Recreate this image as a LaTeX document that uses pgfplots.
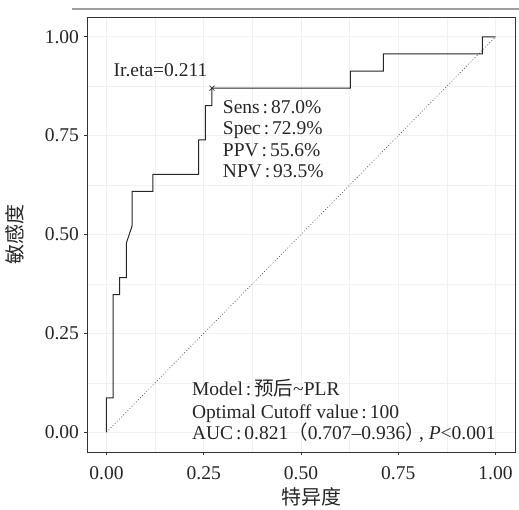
\documentclass[border=0pt]{standalone}
\usepackage{fontspec}
\setmainfont{Liberation Serif}
\newfontfamily\cjk{Noto Sans CJK SC}
\usepackage{pgfplots}
\pgfplotsset{compat=1.18}
\definecolor{frame}{HTML}{333333}
\definecolor{gridc}{HTML}{F1F1F1}
\definecolor{curve}{HTML}{262626}
\definecolor{rulec}{HTML}{A0A0A0}
\newcommand{\cl}{\hspace{0.15em}:\hspace{0.15em}}

\begin{document}
\begin{tikzpicture}
\draw[rulec, line width=1.5pt] (72pt,500pt) -- (519pt,500pt);
\begin{axis}[
  at={(87pt,57pt)}, anchor=south west,
  scale only axis, width=428pt, height=435pt,
  xmin=-0.05, xmax=1.05, ymin=-0.05, ymax=1.05,
  xtick={0,0.25,0.5,0.75,1}, ytick={0,0.25,0.5,0.75,1},
  minor tick num=1, minor tick length=0pt,
  grid=both,
  major grid style={gridc, line width=0.6pt},
  minor grid style={gridc, line width=0.3pt},
  axis line style={frame, line width=0.8pt},
  tick style={frame, line width=0.6pt},
  major tick length=3pt, tick align=outside,
  xtick pos=bottom, ytick pos=left,
  /pgf/number format/.cd, fixed, fixed zerofill, precision=2, assume math mode=true,
  /pgfplots/.cd,
  ticklabel style={font=\fontsize{19.5}{22}\selectfont, text=black!85},
  xticklabel style={yshift=-8pt},
  yticklabel style={xshift=-1.5pt},
  xlabel={\cjk 特异度},
  xlabel style={at={(axis description cs:0.525,-0.104)}, anchor=center,
    font=\fontsize{20}{20}\selectfont, text=black!85},
  ylabel={\cjk 敏感度},
  ylabel style={at={(axis description cs:-0.168,0.501)}, anchor=center,
    font=\fontsize{20}{20}\selectfont, text=black!85},
  clip=false,
]
  % reference diagonal
  \addplot[black!65, line width=0.6pt, dash pattern=on 1pt off 2pt] coordinates {(0,0) (1,1)};
  % ROC curve (x = 1 - specificity, y = sensitivity)
  \addplot[curve, line width=1pt] coordinates {
    (0,0) (0,0.087) (0.017,0.087) (0.017,0.348) (0.034,0.348) (0.034,0.391)
    (0.051,0.391) (0.051,0.478) (0.066,0.522) (0.066,0.609) (0.119,0.609)
    (0.119,0.652) (0.237,0.652) (0.237,0.739) (0.254,0.739) (0.254,0.826)
    (0.271,0.826) (0.271,0.870) (0.627,0.870) (0.627,0.913) (0.712,0.913)
    (0.712,0.957) (0.966,0.957) (0.966,1.0) (1,1)
  };
  % optimal cutoff
  \addplot[only marks, mark=x, mark size=3.5pt, curve, mark options={line width=0.6pt}]
    coordinates {(0.271,0.870)};

  \begin{scope}[every node/.style={font=\fontsize{19.5}{21}\selectfont, text=black!85, inner sep=0pt}]
  \node[anchor=base west] at (axis cs:0.018,0.9007) {Ir.eta=0.211};
  \node[anchor=base west] at (axis cs:0.299,0.806) {Sens\cl 87.0\%};
  \node[anchor=base west] at (axis cs:0.299,0.752) {Spec\cl 72.9\%};
  \node[anchor=base west] at (axis cs:0.299,0.698) {PPV\cl 55.6\%};
  \node[anchor=base west] at (axis cs:0.299,0.644) {NPV\cl 93.5\%};
  \node[anchor=base west] at (axis cs:0.2195,0.0918) {Model\cl{\cjk 预后}\textasciitilde PLR};
  \node[anchor=base west] at (axis cs:0.2195,0.0354) {Optimal Cutoff value\cl 100};
  \node[anchor=base west] at (axis cs:0.2195,-0.0195) {AUC\cl 0.821{\cjk （}0.707–0.936{\cjk ）}\kern-0.3em,\hspace{0.25em}\textit{P}<0.001};
  \end{scope}
\end{axis}
\pgfresetboundingbox
\path[use as bounding box] (0,0) rectangle (519pt,509pt);
\end{tikzpicture}
\end{document}
